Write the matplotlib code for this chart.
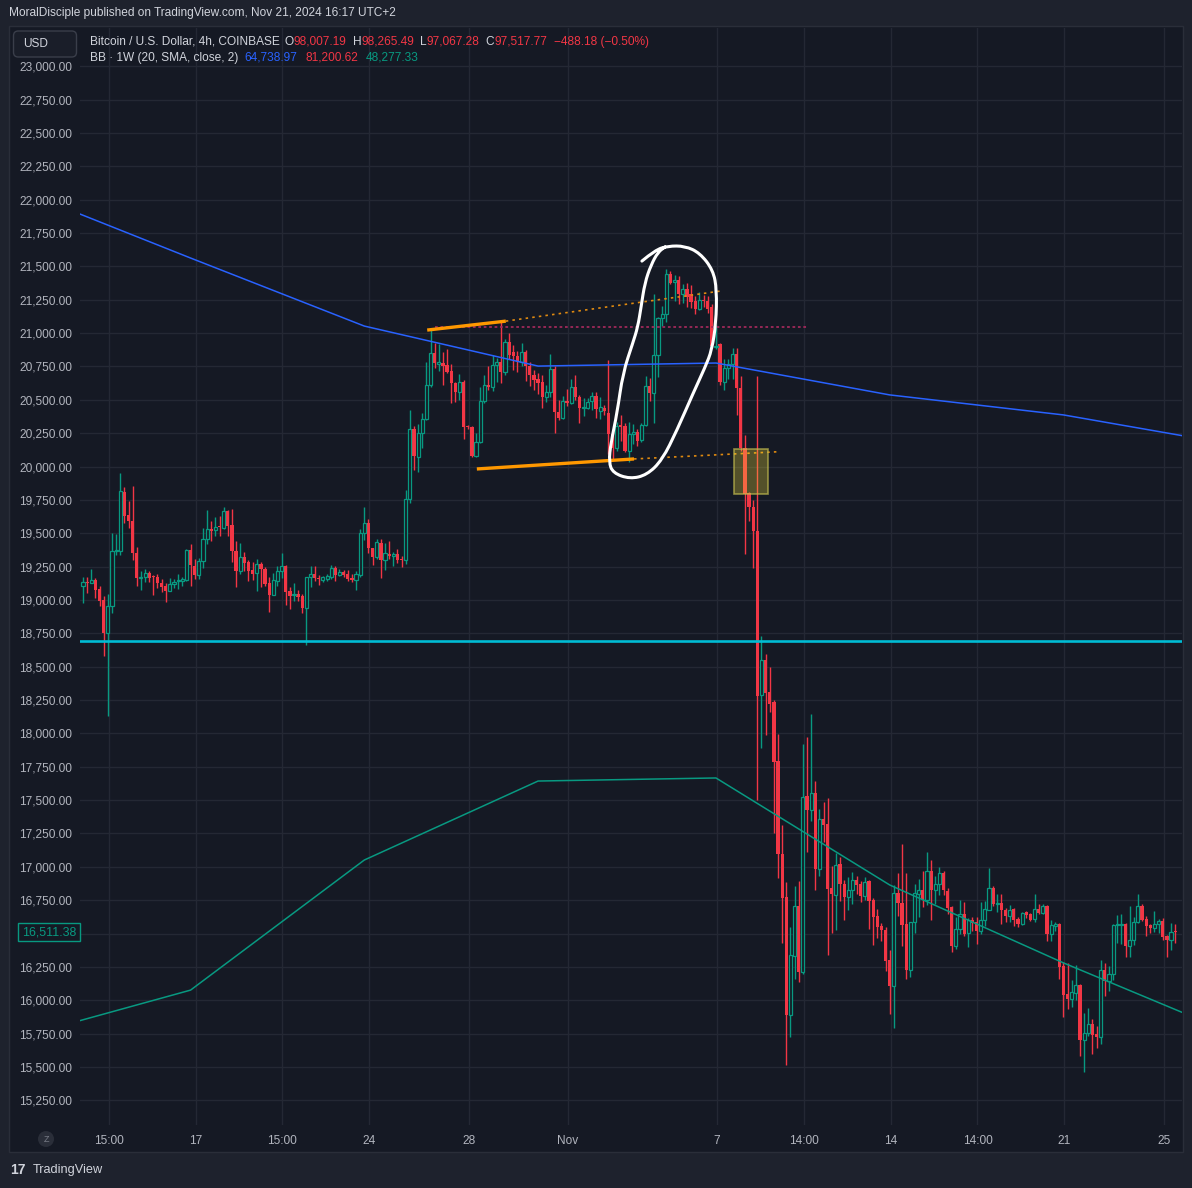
import numpy as np
import matplotlib
matplotlib.use("Agg")
import matplotlib.pyplot as plt
from matplotlib.patches import Rectangle, FancyBboxPatch, Circle, PathPatch
from matplotlib.path import Path
from matplotlib.transforms import blended_transform_factory

plt.rcParams['font.family'] = ['Liberation Sans', 'DejaVu Sans']

# ---- 4h candles (open, high, low, close) ----
opens = [19107, 19137, 19130, 19150, 19085, 19002, 18750, 18952, 19370, 19370,
         19812, 19640, 19595, 19355, 19167, 19170, 19205, 19177, 19170, 19130,
         19102, 19065, 19117, 19140, 19140, 19152, 19377, 19257, 19185, 19290,
         19457, 19535, 19525, 19552, 19540, 19670, 19565, 19370, 19215, 19322,
         19287, 19225, 19200, 19270, 19232, 19125, 19035, 19145, 19215, 19257,
         19067, 19037, 19047, 19030, 18940, 19170, 19195, 19167, 19150, 19160,
         19175, 19240, 19187, 19210, 19195, 19165, 19150, 19187, 19500, 19575,
         19390, 19320, 19427, 19300, 19345, 19330, 19345, 19307, 19300, 19755,
         20280, 20075, 20255, 20357, 20610, 20850, 20772, 20777, 20762, 20717,
         20625, 20562, 20635, 20302, 20300, 20080, 20182, 20492, 20612, 20600,
         20760, 20782, 20705, 20935, 20855, 20825, 20780, 20860, 20750, 20687,
         20660, 20635, 20520, 20557, 20730, 20410, 20362, 20495, 20480, 20600,
         20520, 20442, 20440, 20490, 20530, 20415, 20440, 20402, 20245, 20140,
         20307, 20302, 20120, 20245, 20262, 20197, 20315, 20607, 20550, 20837,
         21110, 21145, 21445, 21382, 21402, 21290, 21332, 21295, 21240, 21182,
         21250, 21240, 21195, 20895, 20915, 20632, 20740, 20770, 20845, 20590,
         20140, 19800, 19700, 19520, 18287, 18550, 18310, 18235, 17792, 17095,
         16775, 15887, 16330, 16705, 16212, 17530, 17425, 17557, 16985, 17355,
         17320, 16840, 16790, 17020, 16875, 16775, 16830, 16905, 16870, 16785,
         16892, 16750, 16630, 16555, 16525, 16300, 16105, 16807, 16730, 16570,
         16225, 16587, 16800, 16825, 16755, 16967, 16830, 16875, 16957, 16817,
         16700, 16405, 16537, 16650, 16505, 16600, 16590, 16520, 16605, 16680,
         16842, 16720, 16727, 16680, 16630, 16682, 16607, 16570, 16660, 16645,
         16607, 16682, 16655, 16707, 16500, 16560, 16570, 16257, 16045, 16010,
         16057, 16112, 15700, 15757, 15825, 15745, 15725, 16225, 16145, 16200,
         16565, 16565, 16570, 16407, 16455, 16590, 16705, 16612, 16565, 16542,
         16570, 16595, 16482, 16450, 16512]
highs = [19175, 19175, 19232, 19165, 19105, 19032, 19047, 19505, 19495, 19955,
         19850, 19745, 19857, 19400, 19220, 19230, 19215, 19187, 19195, 19160,
         19127, 19167, 19160, 19197, 19175, 19385, 19422, 19310, 19315, 19542,
         19677, 19595, 19625, 19627, 19700, 19677, 19685, 19445, 19430, 19362,
         19300, 19287, 19307, 19287, 19250, 19170, 19200, 19255, 19352, 19265,
         19100, 19130, 19075, 19045, 19175, 19255, 19255, 19185, 19180, 19195,
         19262, 19255, 19230, 19225, 19225, 19195, 19217, 19530, 19700, 19607,
         19390, 19457, 19457, 19430, 19440, 19362, 19380, 19327, 19825, 20425,
         20305, 20320, 20400, 20787, 21025, 20925, 20920, 20860, 20880, 20765,
         20637, 20695, 20650, 20312, 20305, 20250, 20600, 20687, 20750, 20835,
         20812, 21087, 20955, 21000, 20910, 20867, 20925, 20875, 20780, 20725,
         20700, 20687, 20612, 20845, 20750, 20500, 20530, 20585, 20655, 20687,
         20537, 20512, 20512, 20562, 20560, 20525, 20465, 20802, 20282, 20332,
         20390, 20327, 20337, 20320, 20282, 20327, 20682, 20665, 21295, 21120,
         21207, 21477, 21462, 21432, 21427, 21370, 21375, 21362, 21282, 21307,
         21287, 21282, 21220, 21060, 20925, 20807, 20807, 20890, 20890, 20675,
         20240, 19807, 19750, 20675, 18730, 18595, 18495, 18250, 17995, 17312,
         16885, 16550, 16857, 16895, 17920, 17975, 18145, 17642, 17437, 17485,
         17515, 17005, 17100, 17070, 16905, 16925, 16962, 16930, 16895, 16925,
         16900, 16770, 16687, 16580, 16550, 16380, 16862, 16950, 17170, 16950,
         16590, 16875, 16912, 16967, 17110, 17050, 16930, 17000, 16967, 16842,
         16710, 16625, 16755, 16737, 16615, 16625, 16625, 16740, 16745, 16992,
         16855, 16800, 16800, 16695, 16717, 16690, 16625, 16662, 16670, 16655,
         16800, 16725, 16725, 16717, 16605, 16587, 16580, 16287, 16282, 16150,
         16262, 16125, 15907, 15945, 15862, 15807, 16300, 16280, 16255, 16575,
         16637, 16650, 16580, 16705, 16625, 16800, 16725, 16635, 16575, 16667,
         16612, 16615, 16492, 16580, 16575]
lows = [18975, 19050, 19125, 19012, 18952, 18577, 18132, 18900, 19335, 19335,
        19575, 19537, 19302, 19107, 19077, 19137, 19137, 19040, 19090, 19060,
        18982, 19065, 19090, 19085, 19107, 19145, 19102, 19155, 19160, 19242,
        19420, 19445, 19477, 19482, 19532, 19477, 19282, 19095, 19197, 19215,
        19145, 19150, 19065, 19095, 19105, 18907, 19035, 19107, 19162, 18962,
        18930, 18995, 18990, 18905, 18662, 19100, 19145, 19112, 19137, 19140,
        19155, 19145, 19180, 19175, 19145, 19135, 19075, 19175, 19450, 19355,
        19260, 19305, 19167, 19225, 19310, 19257, 19275, 19245, 19267, 19725,
        19977, 19960, 20137, 20350, 20600, 20737, 20715, 20612, 20700, 20475,
        20487, 20500, 20205, 20280, 20075, 20075, 20180, 20480, 20575, 20570,
        20637, 20630, 20687, 20805, 20720, 20712, 20750, 20645, 20605, 20575,
        20545, 20437, 20487, 20520, 20250, 20350, 20355, 20455, 20470, 20500,
        20330, 20380, 20430, 20422, 20365, 20360, 20385, 20095, 20057, 20120,
        20195, 20107, 20032, 20170, 20157, 20182, 20307, 20495, 20325, 20670,
        21050, 21082, 21365, 21240, 21215, 21225, 21195, 21190, 21140, 21175,
        21195, 21150, 20890, 20880, 20615, 20577, 20655, 20655, 20390, 20115,
        19345, 19590, 19237, 17500, 17887, 17987, 18162, 17255, 16917, 16430,
        15512, 15725, 16162, 16137, 16195, 17112, 17345, 16825, 16930, 17187,
        16340, 16505, 16525, 16745, 16600, 16680, 16725, 16800, 16737, 16750,
        16537, 16412, 16470, 16445, 16220, 15895, 15792, 16630, 16405, 16162,
        16175, 16505, 16625, 16700, 16717, 16600, 16725, 16787, 16787, 16645,
        16362, 16387, 16500, 16480, 16400, 16520, 16425, 16500, 16555, 16675,
        16705, 16662, 16575, 16590, 16587, 16555, 16550, 16562, 16620, 16595,
        16587, 16650, 16650, 16442, 16442, 16520, 16162, 15875, 15937, 15950,
        16005, 15580, 15462, 15730, 15600, 15645, 15670, 16032, 16070, 16150,
        16430, 16425, 16325, 16325, 16412, 16580, 16595, 16480, 16505, 16512,
        16505, 16455, 16327, 16380, 16430]
closes = [19132, 19130, 19150, 19077, 18995, 18750, 18957, 19370, 19377, 19820,
          19632, 19590, 19350, 19162, 19175, 19202, 19167, 19170, 19125, 19095,
          19065, 19120, 19135, 19145, 19160, 19377, 19260, 19185, 19295, 19457,
          19532, 19520, 19550, 19545, 19670, 19557, 19370, 19215, 19322, 19275,
          19220, 19195, 19270, 19232, 19120, 19035, 19150, 19215, 19255, 19062,
          19032, 19047, 19020, 18940, 19170, 19195, 19162, 19155, 19170, 19180,
          19240, 19185, 19210, 19190, 19160, 19150, 19195, 19500, 19575, 19390,
          19320, 19435, 19300, 19350, 19330, 19342, 19300, 19300, 19755, 20280,
          20077, 20255, 20357, 20610, 20850, 20775, 20780, 20757, 20712, 20625,
          20562, 20635, 20300, 20297, 20080, 20182, 20492, 20612, 20600, 20760,
          20782, 20705, 20935, 20837, 20825, 20780, 20862, 20750, 20687, 20650,
          20630, 20525, 20560, 20730, 20407, 20362, 20490, 20480, 20595, 20520,
          20442, 20450, 20487, 20530, 20430, 20445, 20415, 20245, 20140, 20302,
          20300, 20120, 20245, 20262, 20195, 20315, 20607, 20550, 20837, 21112,
          21145, 21445, 21375, 21402, 21290, 21332, 21270, 21232, 21182, 21250,
          21240, 21182, 20900, 20905, 20632, 20740, 20770, 20845, 20590, 20140,
          19795, 19695, 19515, 18280, 18550, 18305, 18220, 17787, 17095, 16767,
          15887, 16337, 16705, 16212, 17520, 17425, 17557, 16985, 17362, 17315,
          16835, 16795, 17010, 16870, 16775, 16830, 16905, 16862, 16780, 16887,
          16745, 16625, 16550, 16525, 16295, 16105, 16807, 16730, 16562, 16225,
          16590, 16805, 16825, 16755, 16967, 16830, 16875, 16957, 16825, 16692,
          16405, 16537, 16645, 16500, 16605, 16580, 16520, 16605, 16682, 16840,
          16720, 16727, 16675, 16630, 16680, 16605, 16570, 16657, 16637, 16605,
          16682, 16655, 16707, 16500, 16562, 16567, 16250, 16037, 16010, 16060,
          16112, 15700, 15757, 15825, 15742, 15725, 16225, 16145, 16200, 16567,
          16570, 16570, 16407, 16455, 16590, 16705, 16600, 16555, 16542, 16570,
          16592, 16475, 16450, 16512, 16511.38]

# ---- Bollinger Bands 1W (weekly values, joined between weeks) ----
bb_week_idx = [-1, 26, 68, 110, 153, 195, 237, 266]
bb_basis = [21896, 21563, 21053, 20753, 20776, 20537, 20387, 20230]
bb_lower = [15845, 16076, 17051, 17643, 17666, 16864, 16280, 15905]

# ---- drawings ----
support_level = 18693
top_trend_t, top_trend_p = [83.2, 102.2], [21023, 21090]
top_ext_t, top_ext_p = [102.2, 154.0], [21090, 21315]
bot_trend_t, bot_trend_p = [95.2, 133.2], [19982, 20057]
bot_ext_t, bot_ext_p = [133.2, 168.0], [20057, 20111]
red_level_t, red_level_p = [85.0, 175.0], [21044, 21044]
box_t, box_p = [157.4, 165.6], [19794, 20132]
# brush stroke control points
circle_t = [135.1, 138.3, 141.4, 145.5, 149.1, 152.3, 153.2, 153.0, 152.0, 150.4,
            147.5, 143.6, 140.0, 136.3, 132.2, 128.1, 127.1, 127.6, 129.1, 130.5,
            132.9, 134.1, 134.9, 135.8, 137.3, 139.0, 140.7]
circle_p = [21540, 21623, 21653, 21653, 21601, 21473, 21323, 21076, 20873, 20746,
            20551, 20274, 20049, 19937, 19907, 19952, 20034, 20176, 20401, 20701,
            20926, 21046, 21196, 21376, 21511, 21608, 21646]

tick_pos = [6.2, 27.2, 48.2, 69.2, 93.2, 117.2, 153.2, 174.2, 195.2, 216.2, 237.2, 261.2]
tick_lbl = ['15:00', '17', '15:00', '24', '28', 'Nov', '7', '14:00', '14', '14:00', '21', '25']

GREEN = '#089981'
RED = '#f23645'
PANE = '#151924'
TXT = '#b2b5be'
W, H = 1192, 1188

fig = plt.figure(figsize=(W / 100, H / 100), dpi=100)
fig.patch.set_facecolor('#1e222d')
fig.patches.append(Rectangle((9 / W, 1 - 1152 / H), (1183 - 9) / W, (1152 - 26) / H,
                             transform=fig.transFigure, facecolor=PANE,
                             edgecolor='#2a2e39', lw=1, zorder=-5))

ax = fig.add_axes([80 / W, 1 - 1125 / H, (1182 - 80) / W, (1125 - 28) / H])
ax.set_facecolor(PANE)
ax.set_xlim(-0.725, 265.65)
ax.set_ylim(15065, 23287)
for s in ax.spines.values():
    s.set_visible(False)

yt = np.arange(15250, 23001, 250)
ax.set_yticks(yt)
# the 16,500 label sits under the last-price tag
ax.set_yticklabels(["" if v == 16500 else f"{v:,.2f}" for v in yt])
ax.set_xticks(tick_pos)
ax.set_xticklabels(tick_lbl)
ax.tick_params(axis='y', length=0, pad=5.5, colors=TXT, labelsize=8.6)
ax.tick_params(axis='x', length=0, pad=7, colors=TXT, labelsize=8.6)
ax.grid(color='#242834', lw=1, zorder=0)
ax.set_axisbelow(True)

# candles
o = np.array(opens, float)
h = np.array(highs, float)
l = np.array(lows, float)
c = np.array(closes, float)
idx = np.arange(len(c))
up = c >= o
ax.vlines(idx[up], l[up], h[up], color=GREEN, lw=1, zorder=2)
ax.vlines(idx[~up], l[~up], h[~up], color=RED, lw=1, zorder=2)
ax.bar(idx[~up], np.maximum(o - c, 8)[~up], bottom=c[~up], width=0.8,
       color=RED, lw=0, zorder=3)
ax.bar(idx[up], np.maximum(c - o, 8)[up], bottom=o[up], width=0.75,
       facecolor=PANE, edgecolor=GREEN, lw=0.9, zorder=3)

# bollinger bands
ax.plot(bb_week_idx, bb_basis, color='#2962ff', lw=1.1, zorder=4)
ax.plot(bb_week_idx, bb_lower, color=GREEN, lw=1.1, zorder=4)

# drawings
ax.axhline(support_level, color='#00bcd4', lw=1.9, zorder=5)
ax.plot(red_level_t, red_level_p, color='#a0295a', lw=1.3, ls=(0, (1.5, 1.5)), zorder=5)
ax.plot(top_ext_t, top_ext_p, color='#e08a10', lw=1.2, ls=(0, (1.5, 2.5)), zorder=5)
ax.plot(bot_ext_t, bot_ext_p, color='#e08a10', lw=1.2, ls=(0, (1.5, 2.5)), zorder=5)
ax.plot(top_trend_t, top_trend_p, color='#ff9800', lw=2.4, solid_capstyle='butt', zorder=6)
ax.plot(bot_trend_t, bot_trend_p, color='#ff9800', lw=2.4, solid_capstyle='butt', zorder=6)
ax.add_patch(Rectangle((box_t[0], box_p[0]), box_t[1] - box_t[0], box_p[1] - box_p[0],
                       facecolor=(1.0, 0.92, 0.23, 0.27), edgecolor=(0.75, 0.72, 0.3, 0.7),
                       lw=1.2, zorder=6))

# brush stroke as a smooth quadratic-bezier path through the control points
pts = np.column_stack([circle_t, circle_p])
verts = [pts[0]]
codes = [Path.MOVETO]
for k in range(1, len(pts) - 1):
    verts += [pts[k], (pts[k] + pts[k + 1]) / 2]
    codes += [Path.CURVE3, Path.CURVE3]
verts.append(pts[-1])
codes.append(Path.LINETO)
ax.add_patch(PathPatch(Path(verts, codes), facecolor='none', edgecolor='white',
                       lw=2.2, capstyle='round', joinstyle='round', zorder=7))

# current price label
tr = blended_transform_factory(fig.transFigure, ax.transData)
fig.text(49 / W, closes[-1], f"{closes[-1]:,.2f}", transform=tr, ha='center', va='center',
         color=GREEN, fontsize=8.9,
         bbox=dict(boxstyle='square,pad=0.28', facecolor=PANE, edgecolor=GREEN, lw=1))


def ftxt(x, y, s, color, size=8.5, **kw):
    return fig.text(x / W, 1 - y / H, s, color=color, fontsize=size, va='center', ha='left', **kw)


def chain(x, y, parts, size):
    # lay text pieces one after another, gap in pixels before each piece
    r = fig.canvas.get_renderer()
    for gap, s, col in parts:
        x += gap
        t = ftxt(x, y, s, col, size)
        x = t.get_window_extent(r).x1


# header
ftxt(9, 13, "MoralDisciple published on TradingView.com, Nov 21, 2024 16:17 UTC+2", '#d1d4dc', 8.6)

# legend
fig.patches.append(FancyBboxPatch((13.5 / W, 1 - 57 / H), 63 / W, 26 / H,
                                  boxstyle='round,pad=0,rounding_size=0.004',
                                  transform=fig.transFigure, facecolor='#1a1e29',
                                  edgecolor='#3a3e4a', lw=1, zorder=3))
ftxt(23, 44, "USD", '#d1d4dc', 8.6, zorder=4)
LEG = '#d1d4dc'
chain(90, 42, [(0, "Bitcoin / U.S. Dollar, 4h, COINBASE", LEG),
               (5, "O", LEG), (0, "98,007.19", RED),
               (6, "H", LEG), (0, "98,265.49", RED),
               (6, "L", LEG), (0, "97,067.28", RED),
               (6, "C", LEG), (0, "97,517.77", RED),
               (7, "\u2212488.18 (\u22120.50%)", RED)], 8.55)
chain(90, 58, [(0, "BB \u00b7 1W (20, SMA, close, 2)", LEG),
               (6, "64,738.97", '#2962ff'),
               (8, "81,200.62", RED),
               (8, "48,277.33", GREEN)], 8.55)

# Z button on time axis
fig.patches.append(Circle((46 / W, 1 - 1139 / H), 8 / W, transform=fig.transFigure,
                          facecolor='#2a2e39', edgecolor='none', zorder=3))
fig.text(46 / W, 1 - 1139 / H, "Z", color='#787b86', fontsize=6.5, ha='center', va='center', zorder=4)

# footer logo
ftxt(10, 1170, "17", '#d1d4dc', 10, fontweight='bold')
ftxt(33, 1170, "TradingView", '#d1d4dc', 9.2)

fig.savefig("out.png", dpi=100, facecolor=fig.get_facecolor())
